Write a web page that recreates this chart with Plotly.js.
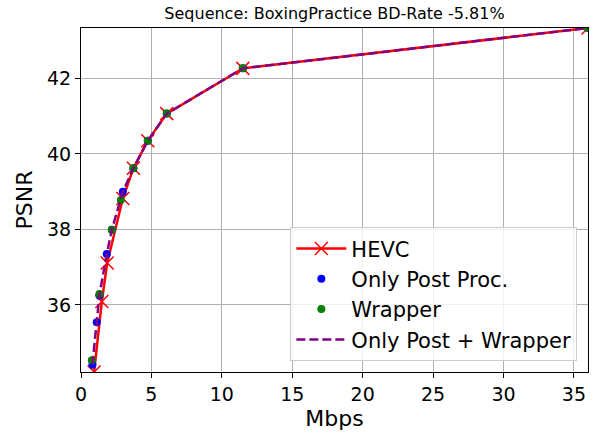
<!DOCTYPE html>
<html>
<head>
<meta charset="utf-8">
<script src="https://cdn.plot.ly/plotly-3.0.1.min.js"></script>
<style>html,body{margin:0;padding:0;background:#fff;}#chart{width:596px;height:439px;}</style>
</head>
<body>
<div id="chart"></div>
<script>
// HEVC anchor
const hevcRate = [0.93, 1.48, 1.86, 2.97, 3.72, 4.74, 6.09, 11.49, 36.0];
const hevcPsnr = [34.22, 36.09, 37.11, 38.82, 39.62, 40.35, 41.07, 42.27, 43.34];
// Only post processing
const postRate = [0.81, 1.12, 1.31, 1.83, 2.19, 2.97, 3.72, 4.74, 6.09, 11.49, 36.0];
const postPsnr = [34.41, 35.54, 36.25, 37.35, 37.99, 39.00, 39.62, 40.35, 41.07, 42.27, 43.34];
// Wrapper
const wrapRate = [0.77, 1.31, 2.19, 2.83, 3.72, 4.74, 6.09, 11.49, 36.0];
const wrapPsnr = [34.53, 36.29, 37.99, 38.78, 39.62, 40.35, 41.07, 42.27, 43.34];
// Only Post + Wrapper
const bothRate = [0.81, 1.12, 1.31, 1.83, 2.19, 2.97, 3.72, 4.74, 6.09, 11.49, 36.0];
const bothPsnr = [34.41, 35.54, 36.27, 37.35, 37.99, 39.00, 39.62, 40.35, 41.07, 42.27, 43.34];

const seriesNames = ["HEVC", "Only Post Proc.", "Wrapper", "Only Post + Wrapper"];
const titleText = "Sequence: BoxingPractice BD-Rate -5.81%";
const xTicks = [0, 5, 10, 15, 20, 25, 30, 35];
const yTicks = [36, 38, 40, 42];

const FONT = "DejaVu Sans, sans-serif";

const traces = [
  {
    x: hevcRate, y: hevcPsnr, name: seriesNames[0], type: "scatter", mode: "lines+markers",
    line: {color: "red", width: 2.5},
    marker: {symbol: "x-thin-open", size: 13, color: "red", line: {color: "red", width: 1.5}},
    cliponaxis: true
  },
  {
    x: postRate, y: postPsnr, name: seriesNames[1], type: "scatter", mode: "markers",
    marker: {symbol: "circle", size: 8, color: "blue"}
  },
  {
    x: wrapRate, y: wrapPsnr, name: seriesNames[2], type: "scatter", mode: "markers",
    marker: {symbol: "circle", size: 8, color: "green"}
  },
  {
    x: bothRate, y: bothPsnr, name: seriesNames[3], type: "scatter", mode: "lines",
    line: {color: "purple", width: 2.5, dash: "9px,4px"}
  }
];

const layout = {
  width: 596, height: 439,
  margin: {l: 81, r: 8, t: 28, b: 67, pad: 0},
  paper_bgcolor: "#ffffff", plot_bgcolor: "#ffffff",
  font: {family: FONT, color: "#000"},
  title: {text: titleText, font: {family: FONT, size: 16, color: "#000"},
          x: 0.5, xref: "paper", xanchor: "center", y: 1 - 13/439, yref: "container", yanchor: "middle"},
  showlegend: true,
  legend: {
    x: 0.979, y: 0.031, xanchor: "right", yanchor: "bottom",
    bgcolor: "rgba(255,255,255,0.8)", bordercolor: "#cccccc", borderwidth: 1,
    font: {family: FONT, size: 21, color: "#000"},
    itemwidth: 50, tracegroupgap: 0
  },
  xaxis: {
    range: [0, 36], tickvals: xTicks, ticktext: xTicks.map(String),
    showgrid: true, gridcolor: "#b0b0b0", gridwidth: 1,
    zeroline: false, showline: true, mirror: true, linecolor: "#000", linewidth: 1,
    ticks: "outside", ticklen: 5, tickcolor: "#000", tickwidth: 1,
    tickfont: {family: FONT, size: 19, color: "#000"},
    title: {text: "Mbps", font: {family: FONT, size: 22, color: "#000"}, standoff: 6}
  },
  yaxis: {
    range: [34.22, 43.34], tickvals: yTicks, ticktext: yTicks.map(String),
    showgrid: true, gridcolor: "#b0b0b0", gridwidth: 1,
    zeroline: false, showline: true, mirror: true, linecolor: "#000", linewidth: 1,
    ticks: "outside", ticklen: 5, tickcolor: "#000", tickwidth: 1,
    tickfont: {family: FONT, size: 19, color: "#000"},
    title: {text: "PSNR", font: {family: FONT, size: 22, color: "#000"}, standoff: 8}
  }
};

Plotly.newPlot("chart", traces, layout, {staticPlot: true, displayModeBar: false});
</script>
</body>
</html>
